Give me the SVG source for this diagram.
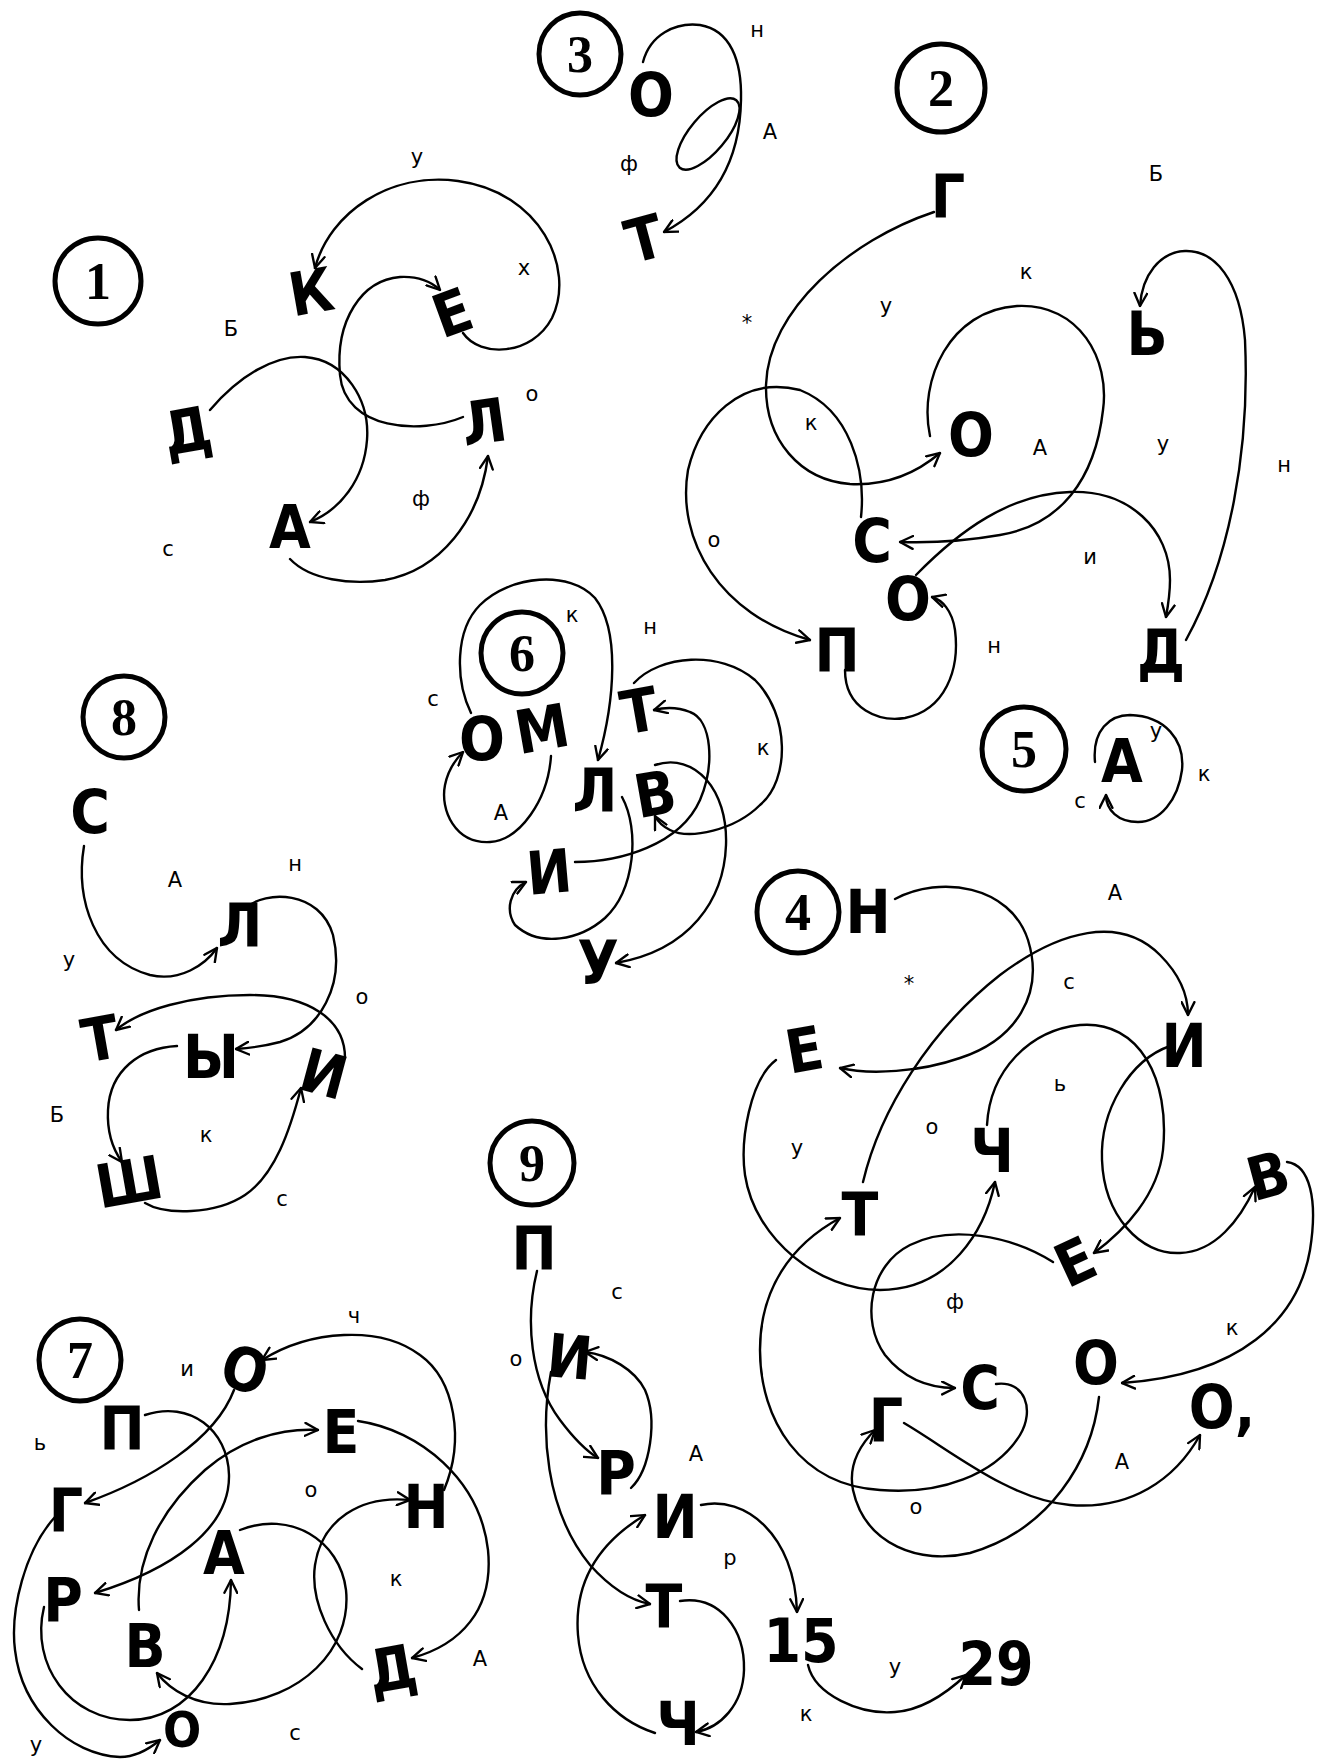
<svg xmlns="http://www.w3.org/2000/svg" width="1318" height="1762" viewBox="0 0 1318 1762">
<style>
.n{font-family:"DejaVu Sans Condensed","DejaVu Sans",sans-serif;font-weight:bold;font-size:60px;text-anchor:middle;fill:#000}
.lb{font-family:"DejaVu Sans","Liberation Sans",sans-serif;font-size:21px;text-anchor:middle;fill:#000}
.num{font-family:"Liberation Serif","DejaVu Serif",serif;font-weight:bold;font-size:52px;text-anchor:middle;fill:#000}
.ring{fill:none;stroke:#000;stroke-width:5}
.c path,.c ellipse{fill:none;stroke:#000;stroke-width:2.4;stroke-linecap:round}
</style>
<defs>
<marker id="ar" viewBox="0 0 14 14" refX="13" refY="7" markerWidth="15" markerHeight="15" markerUnits="userSpaceOnUse" orient="auto">
<path d="M1,1 L13,7 L1,13" fill="none" stroke="#000" stroke-width="2.2" stroke-linecap="round"/>
</marker>
</defs>
<rect width="1318" height="1762" fill="#fff"/>

<g id="numbers">
<g id="num1"><circle class="ring" cx="98" cy="281" r="43"/><text class="num" x="98" y="299">1</text></g>
<g id="num2"><circle class="ring" cx="941" cy="88" r="44"/><text class="num" x="941" y="106">2</text></g>
<g id="num3"><circle class="ring" cx="580" cy="54" r="41"/><text class="num" x="580" y="72">3</text></g>
<g id="num4"><circle class="ring" cx="798" cy="912" r="41"/><text class="num" x="798" y="930">4</text></g>
<g id="num5"><circle class="ring" cx="1024" cy="749" r="42"/><text class="num" x="1024" y="767">5</text></g>
<g id="num6"><circle class="ring" cx="522" cy="653" r="41"/><text class="num" x="522" y="671">6</text></g>
<g id="num7"><circle class="ring" cx="80" cy="1360" r="41"/><text class="num" x="80" y="1378">7</text></g>
<g id="num8"><circle class="ring" cx="124" cy="717" r="41"/><text class="num" x="124" y="735">8</text></g>
<g id="num9"><circle class="ring" cx="532" cy="1163" r="42"/><text class="num" x="532" y="1181">9</text></g>
</g>

<g class="c" id="connectors">
<path marker-end="url(#ar)" d="M463,333 C480,358 532,356 552,318 C576,268 540,192 458,181 C390,172 330,212 315,268"/>
<path marker-end="url(#ar)" d="M463,417 C420,435 345,430 340,375 C335,320 362,280 400,277 C418,276 432,282 440,290"/>
<path marker-end="url(#ar)" d="M210,410 C240,375 275,355 305,357 C345,360 370,400 367,440 C364,480 340,510 310,522"/>
<path marker-end="url(#ar)" d="M290,559 C310,580 350,585 385,580 C440,570 480,520 488,456"/>

<path marker-end="url(#ar)" d="M643,62 C650,35 675,22 700,25 C730,30 742,60 741,100 C740,160 715,205 664,232"/>
<ellipse cx="708" cy="134" rx="44" ry="18" transform="rotate(-50 708 134)"/>

<path marker-end="url(#ar)" d="M934,212 C850,240 768,310 766,385 C765,440 800,480 850,484 C890,486 920,470 940,453"/>
<path marker-end="url(#ar)" d="M861,517 C866,470 850,410 800,390 C740,375 700,420 688,470 C676,540 720,615 810,640"/>
<path marker-end="url(#ar)" d="M930,436 C918,380 950,310 1017,306 C1080,303 1110,360 1103,410 C1095,480 1060,525 1000,535 C960,542 930,543 900,542"/>
<path marker-end="url(#ar)" d="M916,575 C960,530 1010,494 1070,492 C1130,490 1170,530 1170,580 C1170,595 1168,606 1166,617"/>
<path marker-end="url(#ar)" d="M1186,640 C1230,560 1250,450 1245,340 C1240,280 1215,250 1185,251 C1160,252 1142,275 1140,306"/>
<path marker-end="url(#ar)" d="M845,670 C845,710 880,722 905,718 C945,710 960,670 955,630 C952,610 942,600 932,597"/>

<path marker-end="url(#ar)" d="M1095,762 C1092,730 1110,715 1130,715 C1165,716 1185,740 1182,770 C1178,800 1160,822 1138,822 C1118,822 1106,810 1106,795"/>

<path marker-end="url(#ar)" d="M471,713 C455,680 455,630 480,605 C510,575 570,570 595,598 C620,630 615,700 598,760"/>
<path marker-end="url(#ar)" d="M551,756 C548,800 520,840 490,842 C455,844 440,810 445,785 C448,770 455,760 463,752"/>
<path marker-end="url(#ar)" d="M622,797 C640,830 635,890 605,918 C580,940 540,948 515,925 C505,910 510,890 526,882"/>
<path marker-end="url(#ar)" d="M575,862 C620,862 680,845 700,800 C715,765 712,720 690,712 C675,706 662,708 654,710"/>
<path marker-end="url(#ar)" d="M634,683 C660,655 720,650 755,680 C790,715 790,780 760,805 C735,830 690,840 670,830 C662,826 658,822 655,816"/>
<path marker-end="url(#ar)" d="M655,765 C695,752 728,790 726,845 C724,900 690,950 616,963"/>

<path marker-end="url(#ar)" d="M84,846 C75,900 95,960 150,975 C180,982 205,965 217,948"/>
<path marker-end="url(#ar)" d="M246,908 C265,890 320,890 333,935 C345,985 320,1030 280,1042 C265,1046 250,1048 236,1049"/>
<path marker-end="url(#ar)" d="M345,1058 C345,1020 310,995 250,995 C190,995 140,1010 116,1030"/>
<path marker-end="url(#ar)" d="M177,1046 C140,1048 110,1070 108,1110 C107,1130 112,1148 122,1162"/>
<path marker-end="url(#ar)" d="M145,1203 C165,1215 215,1215 245,1195 C275,1175 290,1130 301,1088"/>

<path marker-end="url(#ar)" d="M537,1271 C525,1320 530,1380 560,1420 C575,1440 588,1452 598,1458"/>
<path marker-end="url(#ar)" d="M631,1488 C650,1470 658,1420 645,1390 C635,1370 610,1355 585,1352"/>
<path marker-end="url(#ar)" d="M551,1372 C540,1430 545,1510 590,1565 C608,1585 628,1600 650,1604"/>
<path marker-end="url(#ar)" d="M655,1733 C615,1720 582,1685 578,1635 C574,1585 595,1545 645,1515"/>
<path marker-end="url(#ar)" d="M680,1601 C720,1595 745,1630 744,1670 C743,1705 720,1728 696,1732"/>
<path marker-end="url(#ar)" d="M701,1505 C745,1495 795,1535 797,1612"/>
<path marker-end="url(#ar)" d="M808,1665 C815,1695 860,1715 895,1712 C925,1710 950,1690 966,1675"/>

<path marker-end="url(#ar)" d="M895,899 C940,875 1010,885 1028,940 C1045,995 1015,1040 960,1058 C920,1072 870,1075 840,1068"/>
<path marker-end="url(#ar)" d="M863,1182 C880,1110 930,1030 1000,975 C1060,930 1120,915 1160,955 C1180,975 1188,995 1188,1015"/>
<path marker-end="url(#ar)" d="M987,1125 C990,1070 1030,1030 1080,1025 C1140,1020 1170,1080 1163,1150 C1158,1195 1125,1230 1094,1253"/>
<path marker-end="url(#ar)" d="M1170,1046 C1130,1060 1100,1110 1102,1160 C1104,1215 1140,1255 1180,1253 C1215,1252 1240,1220 1255,1187"/>
<path marker-end="url(#ar)" d="M1287,1162 C1310,1165 1318,1200 1310,1250 C1298,1320 1240,1375 1122,1383"/>
<path marker-end="url(#ar)" d="M776,1060 C750,1080 740,1140 745,1175 C755,1240 820,1290 880,1290 C950,1290 985,1230 995,1182"/>
<path marker-end="url(#ar)" d="M1053,1262 C1010,1235 950,1225 910,1245 C870,1265 860,1320 885,1355 C905,1380 930,1388 955,1388"/>
<path marker-end="url(#ar)" d="M996,1384 C1025,1380 1035,1410 1020,1435 C995,1475 940,1495 880,1490 C800,1485 760,1420 760,1350 C760,1290 790,1245 840,1218"/>
<path marker-end="url(#ar)" d="M1099,1397 C1092,1460 1050,1530 970,1553 C920,1565 865,1545 853,1490 C848,1465 860,1445 875,1430"/>
<path marker-end="url(#ar)" d="M904,1423 C950,1450 1010,1500 1070,1505 C1130,1510 1175,1480 1200,1435"/>

<path marker-end="url(#ar)" d="M444,1490 C465,1440 455,1380 420,1355 C380,1325 310,1330 262,1360"/>
<path marker-end="url(#ar)" d="M234,1390 C215,1440 150,1480 85,1503"/>
<path marker-end="url(#ar)" d="M145,1415 C190,1400 228,1430 229,1475 C230,1530 170,1570 95,1593"/>
<path marker-end="url(#ar)" d="M139,1610 C135,1560 160,1510 205,1470 C240,1440 280,1428 318,1430"/>
<path marker-end="url(#ar)" d="M358,1421 C420,1430 480,1480 488,1550 C494,1610 460,1645 412,1658"/>
<path marker-end="url(#ar)" d="M55,1517 C25,1550 10,1610 15,1650 C22,1710 70,1755 120,1757 C135,1757 148,1750 160,1740"/>
<path marker-end="url(#ar)" d="M44,1607 C30,1665 70,1720 130,1720 C190,1720 230,1660 231,1580"/>
<path marker-end="url(#ar)" d="M240,1530 C290,1510 340,1540 346,1590 C352,1650 300,1700 230,1704 C195,1706 170,1690 157,1673"/>
<path marker-end="url(#ar)" d="M362,1669 C330,1645 310,1600 315,1565 C322,1520 360,1495 410,1500"/>
</g>

<g id="nodes">
<text id="n1k" class="n" x="311" y="313" transform="rotate(-10 311 291)">К</text>
<text id="n1e" class="n" x="452" y="334" transform="rotate(-20 452 312)">Е</text>
<text id="n1d" class="n" x="187" y="452" transform="rotate(-10 187 430)">Д</text>
<text id="n1l" class="n" x="484" y="443" transform="rotate(-8 484 421)">Л</text>
<text id="n1a" class="n" x="290" y="548">А</text>

<text id="n3o" class="n" x="651" y="116">О</text>
<text id="n3t" class="n" x="644" y="260" transform="rotate(-15 644 238)">Т</text>

<text id="n2g" class="n" x="948" y="218">Г</text>
<text id="n2soft" class="n" x="1147" y="355">Ь</text>
<text id="n2o1" class="n" x="971" y="456">О</text>
<text id="n2s" class="n" x="872" y="562">С</text>
<text id="n2o2" class="n" x="908" y="620">О</text>
<text id="n2p" class="n" x="837" y="672">П</text>
<text id="n2d" class="n" x="1161" y="672">Д</text>

<text id="n5a" class="n" x="1122" y="782">А</text>

<text id="n6o" class="n" x="482" y="760">О</text>
<text id="n6m" class="n" x="542" y="750" transform="rotate(-10 542 728)">М</text>
<text id="n6l" class="n" x="595" y="812">Л</text>
<text id="n6t" class="n" x="639" y="732" transform="rotate(-10 639 710)">Т</text>
<text id="n6v" class="n" x="655" y="815" transform="rotate(-10 655 793)">В</text>
<text id="n6i" class="n" x="549" y="893" transform="rotate(-5 549 871)">И</text>
<text id="n6u" class="n" x="598" y="984">У</text>

<text id="n8s" class="n" x="90" y="833">С</text>
<text id="n8l" class="n" x="240" y="947">Л</text>
<text id="n8t" class="n" x="100" y="1060" transform="rotate(-10 100 1038)">Т</text>
<text id="n8y" class="n" x="211" y="1078">Ы</text>
<text id="n8i" class="n" x="324" y="1095" transform="rotate(15 324 1073)">И</text>
<text id="n8sh" class="n" x="129" y="1203" transform="rotate(-10 129 1181)">Ш</text>

<text id="n9p" class="n" x="534" y="1270">П</text>
<text id="n9i1" class="n" x="570" y="1378" transform="rotate(5 570 1356)">И</text>
<text id="n9r" class="n" x="616" y="1494">Р</text>
<text id="n9i2" class="n" x="675" y="1538">И</text>
<text id="n9t" class="n" x="664" y="1628">Т</text>
<text id="n9ch" class="n" x="678" y="1745">Ч</text>
<text id="n9n15" class="n" x="801" y="1662">15</text>
<text id="n9n29" class="n" x="996" y="1685">29</text>

<text id="n4n" class="n" x="868" y="933">Н</text>
<text id="n4e1" class="n" x="804" y="1071" transform="rotate(-10 804 1049)">Е</text>
<text id="n4i" class="n" x="1184" y="1067">И</text>
<text id="n4ch" class="n" x="992" y="1172">Ч</text>
<text id="n4t" class="n" x="860" y="1236">Т</text>
<text id="n4e2" class="n" x="1075" y="1283" transform="rotate(-25 1075 1261)">Е</text>
<text id="n4v" class="n" x="1268" y="1197" transform="rotate(-15 1268 1175)">В</text>
<text id="n4s" class="n" x="980" y="1409">С</text>
<text id="n4o1" class="n" x="1096" y="1384">О</text>
<text id="n4g" class="n" x="886" y="1442">Г</text>
<text id="n4o2" class="n" x="1222" y="1428">О,</text>

<text id="n7p" class="n" x="122" y="1450">П</text>
<text id="n7o1" class="n" x="245" y="1391" transform="rotate(15 245 1369)">О</text>
<text id="n7e" class="n" x="341" y="1453">Е</text>
<text id="n7g" class="n" x="66" y="1532">Г</text>
<text id="n7n" class="n" x="426" y="1528">Н</text>
<text id="n7a" class="n" x="224" y="1574">А</text>
<text id="n7r" class="n" x="63" y="1621">Р</text>
<text id="n7v" class="n" x="145" y="1667">В</text>
<text id="n7d" class="n" x="392" y="1690" transform="rotate(-10 392 1668)">Д</text>
<text id="n7o2" class="n" x="182" y="1747" style="font-size:50px">О</text>
</g>

<g id="labels">
<text class="lb" x="417" y="164">у</text>
<text class="lb" x="524" y="275">х</text>
<text class="lb" x="231" y="336">Б</text>
<text class="lb" x="532" y="401">о</text>
<text class="lb" x="421" y="506">ф</text>
<text class="lb" x="168" y="556">с</text>

<text class="lb" x="757" y="37">н</text>
<text class="lb" x="770" y="139">А</text>
<text class="lb" x="629" y="171">ф</text>

<text class="lb" x="1156" y="181">Б</text>
<text class="lb" x="1026" y="279">к</text>
<text class="lb" x="886" y="313">у</text>
<text class="lb" x="747" y="330">*</text>
<text class="lb" x="811" y="430">к</text>
<text class="lb" x="1040" y="455">А</text>
<text class="lb" x="1163" y="451">у</text>
<text class="lb" x="1284" y="472">н</text>
<text class="lb" x="714" y="547">о</text>
<text class="lb" x="1090" y="564">и</text>
<text class="lb" x="994" y="653">н</text>

<text class="lb" x="1156" y="738">у</text>
<text class="lb" x="1204" y="781">к</text>
<text class="lb" x="1080" y="808">с</text>

<text class="lb" x="433" y="706">с</text>
<text class="lb" x="572" y="622">к</text>
<text class="lb" x="650" y="634">н</text>
<text class="lb" x="501" y="820">А</text>
<text class="lb" x="763" y="755">к</text>

<text class="lb" x="175" y="887">А</text>
<text class="lb" x="295" y="871">н</text>
<text class="lb" x="69" y="967">у</text>
<text class="lb" x="362" y="1004">о</text>
<text class="lb" x="57" y="1122">Б</text>
<text class="lb" x="206" y="1142">к</text>
<text class="lb" x="282" y="1206">с</text>

<text class="lb" x="617" y="1299">с</text>
<text class="lb" x="516" y="1366">о</text>
<text class="lb" x="696" y="1461">А</text>
<text class="lb" x="730" y="1565">р</text>
<text class="lb" x="895" y="1674">у</text>
<text class="lb" x="806" y="1721">к</text>

<text class="lb" x="1115" y="900">А</text>
<text class="lb" x="909" y="991">*</text>
<text class="lb" x="1069" y="989">с</text>
<text class="lb" x="1060" y="1091">ь</text>
<text class="lb" x="932" y="1134">о</text>
<text class="lb" x="797" y="1155">у</text>
<text class="lb" x="955" y="1309">ф</text>
<text class="lb" x="1232" y="1335">к</text>
<text class="lb" x="1122" y="1469">А</text>
<text class="lb" x="916" y="1514">о</text>

<text class="lb" x="354" y="1323">ч</text>
<text class="lb" x="187" y="1376">и</text>
<text class="lb" x="40" y="1450">ь</text>
<text class="lb" x="311" y="1497">о</text>
<text class="lb" x="396" y="1586">к</text>
<text class="lb" x="480" y="1666">А</text>
<text class="lb" x="295" y="1740">с</text>
<text class="lb" x="36" y="1752">у</text>
</g>
</svg>
